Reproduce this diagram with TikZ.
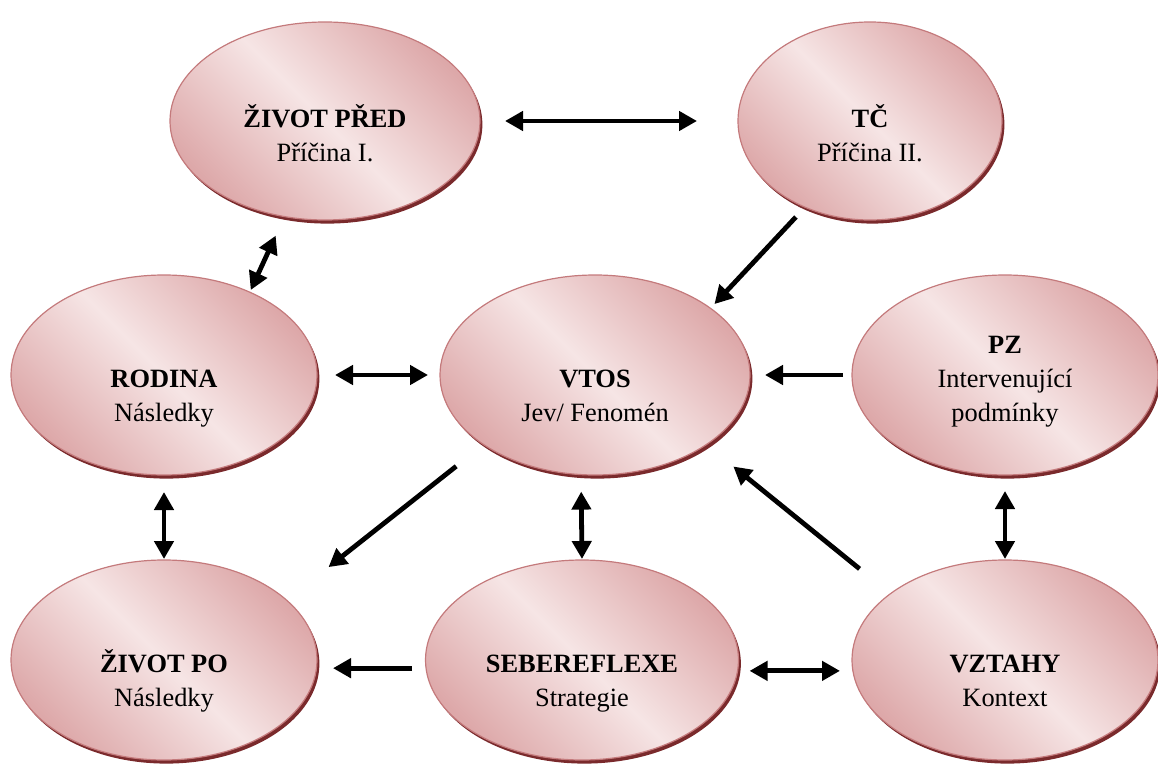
\documentclass[tikz,border=0pt]{standalone}
\usepackage{fontspec}
\setmainfont{Liberation Serif}
\usepackage{tikz}
\usetikzlibrary{positioning, shapes, shadows, arrows.meta}
\definecolor{rim}{HTML}{DDA8A9}
\definecolor{core}{HTML}{F6E5E5}
\definecolor{edgered}{HTML}{C47A7C}
\definecolor{shadowred}{HTML}{7A2A2C}
\tikzset{>={Triangle[length=9pt,width=9.5pt]}}
\tikzset{
    bubble/.style={ellipse, draw=edgered, line width=0.6pt, outer sep=0pt, inner sep=0pt,
        top color=rim, bottom color=rim, middle color=core, shading angle=-45,
        drop shadow={shadow xshift=1.2pt, shadow yshift=-1.8pt, fill=shadowred, opacity=1},
        align=center, font=\fontsize{13.2pt}{17pt}\selectfont},
    link/.style={line width=2.4pt}
}
\newcommand{\topstrut}{\rule{0pt}{18pt}}

\begin{document}
\begin{tikzpicture}[x=0.5pt,y=-0.5pt]
    \useasboundingbox (0,0) rectangle (1158,765);
    % top row
    \node[bubble, minimum width=155pt, minimum height=99pt] (zpred) at (325,121) {\strut\\\textbf{ŽIVOT PŘED}\\Příčina I.\strut};
    \node[bubble, minimum width=132pt, minimum height=99pt] (tc) at (870,121) {\strut\\\textbf{TČ}\\Příčina II.\strut};
    % middle row
    \node[bubble, minimum width=153pt, minimum height=100pt] (rodina) at (164,375) {\topstrut\\\textbf{RODINA}\\Následky\strut};
    \node[bubble, minimum width=155pt, minimum height=100pt] (vtos) at (595,375) {\topstrut\\\textbf{VTOS}\\Jev/ Fenomén\strut};
    \node[bubble, minimum width=153pt, minimum height=100pt] (pz) at (1005,375) {\topstrut\textbf{PZ}\\Intervenující\\podmínky\strut};
    % bottom row
    \node[bubble, minimum width=153pt, minimum height=100pt] (zpo) at (164,660) {\topstrut\\\textbf{ŽIVOT PO}\\Následky\strut};
    \node[bubble, minimum width=156.5pt, minimum height=100pt] (sebe) at (582,660) {\topstrut\\\textbf{SEBEREFLEXE}\\Strategie\strut};
    \node[bubble, minimum width=153pt, minimum height=100pt] (vztahy) at (1005,660) {\topstrut\\\textbf{VZTAHY}\\Kontext\strut};
    % two-way links
    \path[<->, link]
        (zpred.east)   edge[shorten <=12.5pt, shorten >=20.5pt] (tc.west)
        (zpred.247.3)  edge[shorten <=10.5pt, shorten >=1.2pt]  (rodina.44.7)
        (rodina.east)  edge[shorten <=9pt, shorten >=6pt]       (vtos.west)
        (rodina.south) edge[shorten <=8.5pt, shorten >=0.5pt]   (zpo.north)
        (vtos.262.6)   edge[shorten <=8.5pt, shorten >=0.5pt]   (sebe.north)
        (pz.south)     edge[shorten <=8pt, shorten >=0.5pt]     (vztahy.north)
        (sebe.356.3)   edge[shorten <=6pt, shorten >=6pt]       (vztahy.west |- sebe.356.3)
    ;
    % one-way links
    \path[->, link]
        (tc.233)       edge[shorten <=6.7pt, shorten >=2.9pt]   (vtos.30.3)
        (pz.west)      edge[shorten <=4.5pt, shorten >=7.5pt]   (vtos.east)
        (vtos.212.4)   edge[shorten <=17.5pt, shorten >=26.7pt] (zpo.26.7)
        (vztahy.150.5) edge[shorten <=19.8pt, shorten >=17.4pt] (vtos.328.5)
        (sebe.183.7)   edge[shorten <=7pt, shorten >=8pt]       (zpo.east |- sebe.183.7)
    ;
\end{tikzpicture}
\end{document}
